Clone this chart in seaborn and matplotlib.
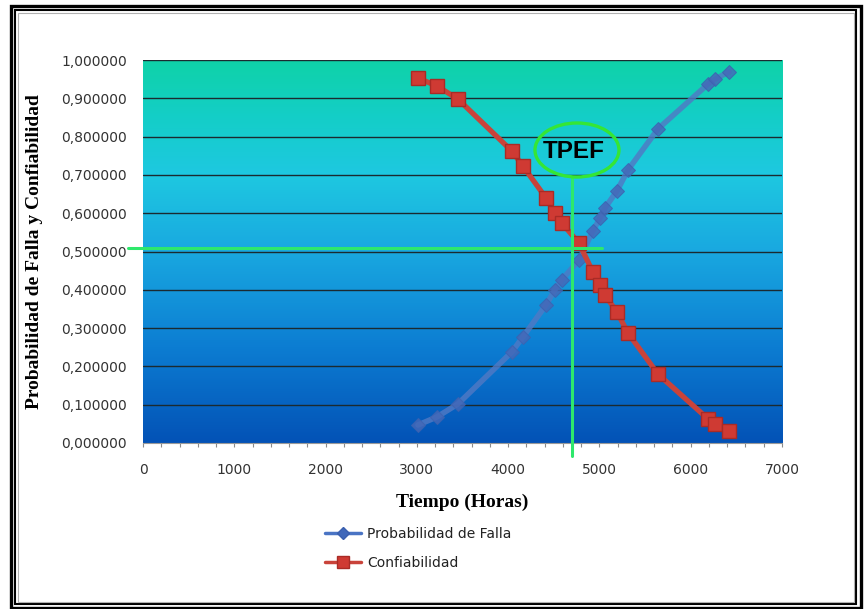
import numpy as np
import pandas as pd
import matplotlib
matplotlib.use("Agg")
import matplotlib.pyplot as plt
from matplotlib.colors import LinearSegmentedColormap
from matplotlib.patches import Ellipse, Rectangle
from matplotlib.lines import Line2D
from matplotlib.ticker import FuncFormatter, MultipleLocator
import seaborn as sns

# Tiempo de operación (horas) y curvas de falla / confiabilidad
tiempo = [3012, 3220, 3450, 4042, 4162, 4414, 4512, 4589, 4776,
          4929, 5006, 5061, 5192, 5313, 5641, 6189, 6266, 6419]
confiabilidad = [0.953, 0.932, 0.898, 0.762, 0.723, 0.640, 0.600, 0.574, 0.522,
                 0.446, 0.413, 0.386, 0.342, 0.287, 0.180, 0.063, 0.050, 0.031]
prob_falla = [0.047, 0.068, 0.102, 0.238, 0.277, 0.360, 0.400, 0.426, 0.478,
              0.554, 0.587, 0.614, 0.658, 0.713, 0.820, 0.937, 0.950, 0.969]

# Tiempo promedio entre fallas y probabilidad asociada
tpef_x = 4699
tpef_y = 0.509

x_ticks = [0, 1000, 2000, 3000, 4000, 5000, 6000, 7000]
y_ticks = [0.0, 0.1, 0.2, 0.3, 0.4, 0.5, 0.6, 0.7, 0.8, 0.9, 1.0]

sns.set_theme(style="white")
plt.rcParams["font.family"] = ["DejaVu Sans"]

df = pd.DataFrame({"Tiempo": tiempo,
                   "Confiabilidad": confiabilidad,
                   "Probabilidad de Falla": prob_falla})

W, H = 864, 609
fig = plt.figure(figsize=(W / 100, H / 100), dpi=100)
fig.patch.set_facecolor("white")
ax = fig.add_axes([143 / W, 1 - 443 / H, (782 - 143) / W, (443 - 60) / H])

# Fondo degradado del área de trazado
grad_cmap = LinearSegmentedColormap.from_list("fondo", [
    (0.00, (3 / 255, 82 / 255, 182 / 255)),
    (0.25, (12 / 255, 125 / 255, 210 / 255)),
    (0.50, (25 / 255, 168 / 255, 224 / 255)),
    (0.70, (30 / 255, 200 / 255, 225 / 255)),
    (0.85, (20 / 255, 206 / 255, 200 / 255)),
    (1.00, (15 / 255, 210 / 255, 168 / 255)),
])
grad = np.linspace(0, 1, 256).reshape(-1, 1)
ax.imshow(grad, cmap=grad_cmap, origin="lower", aspect="auto",
          extent=[0, 7000, 0, 1], zorder=0, interpolation="bicubic")

sns.lineplot(data=df, x="Tiempo", y="Probabilidad de Falla", ax=ax,
             color="#5079c4", linewidth=4.0, marker="D", markersize=7.5,
             markerfacecolor="#4468b8", markeredgecolor="#3d62b0",
             alpha=0.82, legend=False, zorder=3)
sns.lineplot(data=df, x="Tiempo", y="Confiabilidad", ax=ax,
             color="#c9433a", linewidth=3.8, marker="s", markersize=10.5,
             markerfacecolor="#cf3a33", markeredgecolor="#a92b26",
             markeredgewidth=1.0, legend=False, zorder=4)

ax.set_xlim(0, 7000)
ax.set_ylim(0, 1)
ax.set_xticks(x_ticks)
ax.set_yticks(y_ticks)
ax.xaxis.set_minor_locator(MultipleLocator(200))
ax.yaxis.set_major_formatter(FuncFormatter(lambda v, p: f"{v:.6f}".replace(".", ",")))
ax.grid(False)
ax.set_axisbelow(True)
for yv in y_ticks[1:]:
    ax.axhline(yv, color="#1b2a30", linewidth=1.0, zorder=1)

for side in ["top", "right", "left"]:
    ax.spines[side].set_visible(False)
ax.spines["bottom"].set_color("#9a9a9a")
ax.spines["bottom"].set_linewidth(0.8)

ax.tick_params(axis="x", which="both", direction="out", length=3, width=0.8,
               color="#8a8a8a", bottom=True, labelsize=10, labelcolor="#333333", pad=11.5)
ax.tick_params(axis="y", length=0, labelsize=10, labelcolor="#333333", pad=11.5)

ax.set_xlabel("Tiempo (Horas)", family=["Liberation Serif"], fontweight="bold",
              fontsize=14, color="black", va="center")
ax.xaxis.set_label_coords(0.5, (443 - 502) / 383)
ax.set_ylabel("Probabilidad de Falla y Confiabilidad", family=["Liberation Serif"],
              fontweight="bold", fontsize=14, color="black", va="center")
ax.yaxis.set_label_coords((35 - 143) / 639, 0.5)

# Marcas del TPEF
green_line = "#2ee86c"
ax.plot([-164, 5028], [tpef_y, tpef_y], color=green_line, linewidth=2.2,
        clip_on=False, zorder=6)
ax.plot([tpef_x, tpef_x], [-0.034, 0.692], color=green_line, linewidth=2.2,
        clip_on=False, zorder=6)
ax.add_patch(Ellipse((4754, 0.765), 920, 0.141, fill=False,
                     edgecolor="#35e635", linewidth=2.4, zorder=6))
ax.text(4721, 0.760, "TPEF", family=["Liberation Sans"], fontweight="bold",
        fontsize=17.5, color="black", ha="center", va="center", zorder=7)

# Leyenda
handles = [
    Line2D([], [], color="#4a74c4", linewidth=2.5, marker="D", markersize=6,
           markerfacecolor="#4068ba", markeredgecolor="#3a5fae"),
    Line2D([], [], color="#c9433a", linewidth=2.5, marker="s", markersize=8,
           markerfacecolor="#cf3a33", markeredgecolor="#a92b26"),
]
fig.legend(handles, ["Probabilidad de Falla", "Confiabilidad"],
           loc="upper left", bbox_to_anchor=(325 / W, 1 - 527 / H),
           frameon=False, fontsize=10, handlelength=2.6, handletextpad=0.45,
           labelspacing=1.05, borderpad=0, borderaxespad=0, labelcolor="#222222")

# Marco doble alrededor del gráfico
def frame(x0, y0, x1, y1, lw, color):
    fig.patches.append(Rectangle((x0 / W, 1 - y1 / H), (x1 - x0) / W, (y1 - y0) / H,
                                 transform=fig.transFigure, fill=False,
                                 edgecolor=color, linewidth=lw, zorder=10))

frame(10.5, 5.5, 860.5, 607.5, 2.4, "black")
frame(15, 10, 856, 604, 1.5, "black")
frame(17.5, 12.5, 853.5, 602, 0.8, "#b0b0b0")

fig.savefig("out.png", dpi=100)
